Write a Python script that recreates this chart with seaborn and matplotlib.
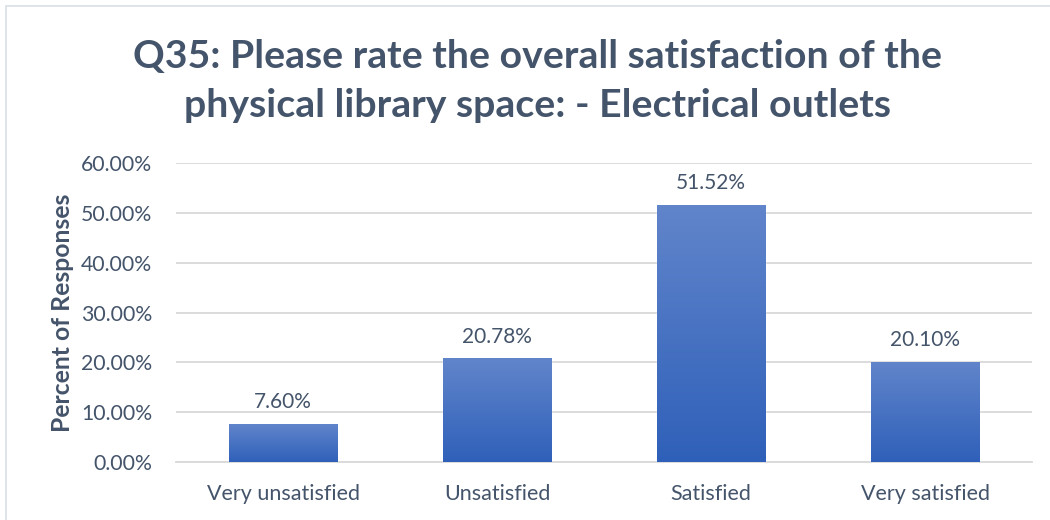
import numpy as np
import pandas as pd
import matplotlib
matplotlib.use("Agg")
import matplotlib.pyplot as plt
import seaborn as sns
from matplotlib.colors import LinearSegmentedColormap
from matplotlib.patches import Rectangle
from matplotlib.ticker import FuncFormatter, MultipleLocator

categories = ["Very unsatisfied", "Unsatisfied", "Satisfied", "Very satisfied"]
percent = [7.60, 20.78, 51.52, 20.10]
title = "Q35: Please rate the overall satisfaction of the\nphysical library space: - Electrical outlets"
ylabel = "Percent of Responses"

TEXT = "#44546A"
GRID = "#D9D9D9"
TOP_BLUE = "#6185CB"
BOTTOM_BLUE = "#2F60B9"

sns.set_theme(style="white")
plt.rcParams["font.family"] = ["Lato", "DejaVu Sans"]

df = pd.DataFrame({"category": categories, "value": np.array(percent) / 100})

fig = plt.figure(figsize=(10.5, 5.2), dpi=100)
ax = fig.add_axes([0.1676, 0.1115, 0.8154, 0.575])

sns.barplot(data=df, x="category", y="value", color=BOTTOM_BLUE, width=0.505,
            saturation=1, ax=ax, zorder=3)

ax.set_ylim(0, 0.6)
ax.set_xlim(-0.5, len(categories) - 0.5)
ax.yaxis.set_major_locator(MultipleLocator(0.1))
ax.yaxis.set_major_formatter(FuncFormatter(lambda v, _: f"{v * 100:.2f}%"))
ax.grid(axis="y", color=GRID, linewidth=1.3, zorder=0)
ax.set_axisbelow(True)
for side in ["top", "right", "left"]:
    ax.spines[side].set_visible(False)
ax.spines["bottom"].set_color(GRID)
ax.spines["bottom"].set_linewidth(1.3)
ax.tick_params(axis="y", length=0, labelsize=15.3, colors=TEXT, pad=17)
ax.tick_params(axis="x", length=0, labelsize=15.5, colors=TEXT, pad=16)
ax.set_xlabel("")
ax.set_ylabel(ylabel, fontsize=17.8, fontweight="bold", color=TEXT, labelpad=5)

# vertical gradient fill for each bar
cmap = LinearSegmentedColormap.from_list("bar_grad", [BOTTOM_BLUE, TOP_BLUE])
grad = np.linspace(0, 1, 256).reshape(-1, 1)
for patch in list(ax.patches):
    x0, y0 = patch.get_x(), patch.get_y()
    w, h = patch.get_width(), patch.get_height()
    im = ax.imshow(grad, cmap=cmap, origin="lower", aspect="auto",
                   extent=[x0, x0 + w, y0, y0 + h], zorder=4)
    im.set_clip_path(patch)
    ax.text(x0 + w / 2, y0 + h + 0.024, f"{h * 100:.2f}%", ha="center",
            va="bottom", fontsize=15, color=TEXT, zorder=5)

ax.set_xlim(-0.5, len(categories) - 0.5)
ax.set_ylim(0, 0.6)

fig.text(0.512, 0.844, title, ha="center", va="center", fontsize=28.3,
         fontweight="bold", color=TEXT, linespacing=1.5)

# chart frame
fig.patches.append(Rectangle((6 / 1050, -0.05), 1.1, 1 - 6 / 520 + 0.05,
                             transform=fig.transFigure, fill=False,
                             edgecolor="#D9DEE6", linewidth=1.2))

fig.savefig("out.png", dpi=100, facecolor="white")
